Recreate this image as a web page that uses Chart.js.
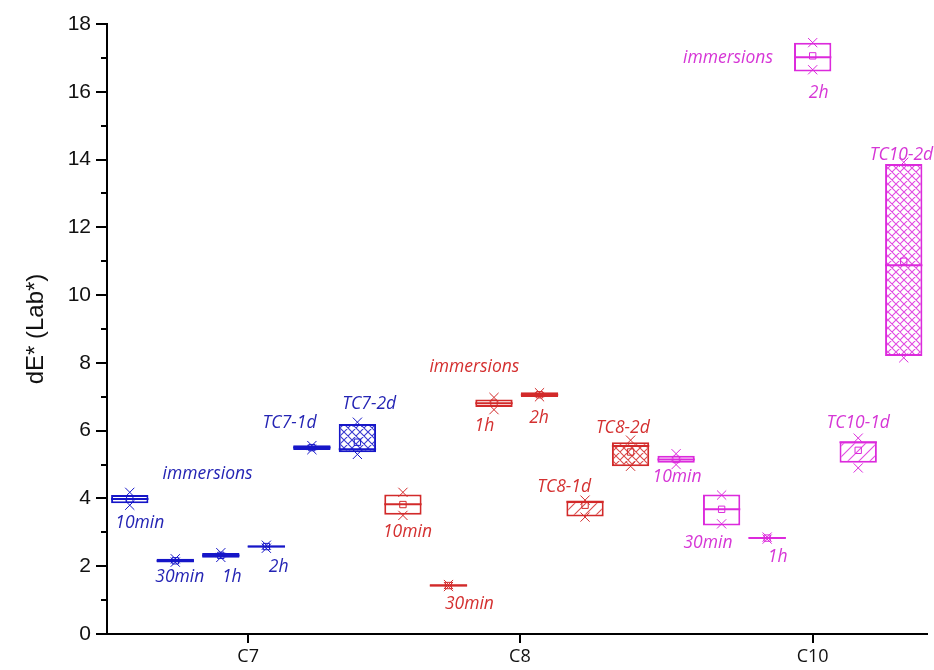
<!DOCTYPE html>
<html lang="en">
<head>
<meta charset="UTF-8">
<title>dE* (Lab*) box chart</title>
<script src="https://cdn.jsdelivr.net/npm/chart.js"></script>
<style>
    html, body { margin: 0; padding: 0; background: #ffffff; }
</style>
</head>
<body>
<canvas id="chart" width="934" height="670"></canvas>
<script>
// groups along the x axis
const groupNames = ['C7', 'C8', 'C10'];
const xTickPos = [3.6, 9.57, 16.0];

// one box per sample: position on the x axis and its group
const boxPos   = [1, 2, 3, 4, 5, 6, 7, 8, 9, 10, 11, 12, 13, 14, 15, 16, 17, 18];
const boxGroup = [0, 0, 0, 0, 0, 0, 1, 1, 1, 1, 1, 1, 2, 2, 2, 2, 2, 2];

// box statistics (dE*)
const boxLow  = [3.86, 2.11, 2.25, 2.55, 5.43, 5.36, 3.52, 1.40, 6.70, 6.99, 3.47, 4.95, 5.05, 3.20, 2.81, 16.60, 5.05, 8.20];
const boxHigh = [4.10, 2.22, 2.39, 2.61, 5.57, 6.20, 4.12, 1.47, 6.92, 7.13, 3.92, 5.66, 5.26, 4.12, 2.86, 17.45, 5.68, 13.87];
const medians = [3.98, 2.16, 2.32, 2.58, 5.50, 5.45, 3.83, 1.43, 6.81, 7.06, 3.90, 5.55, 5.15, 3.68, 2.83, 17.02, 5.66, 10.88];
const means   = [3.98, 2.16, 2.32, 2.58, 5.50, 5.66, 3.82, 1.43, 6.81, 7.06, 3.80, 5.37, 5.15, 3.68, 2.83, 17.06, 5.42, 11.00];
const mins    = [3.80, 2.12, 2.26, 2.53, 5.44, 5.30, 3.50, 1.40, 6.62, 7.00, 3.45, 4.95, 5.00, 3.25, 2.80, 16.65, 4.90, 8.15];
const maxs    = [4.18, 2.22, 2.40, 2.62, 5.56, 6.25, 4.18, 1.46, 6.98, 7.12, 3.95, 5.72, 5.32, 4.10, 2.86, 17.45, 5.78, 13.92];

// text notes placed in data coordinates
const noteText  = ['immersions', '10min', '30min', '1h', '2h', 'TC7-1d', 'TC7-2d',
                   'immersions', '1h', '2h', '10min', '30min', 'TC8-1d', 'TC8-2d',
                   'immersions', '2h', '10min', '30min', '1h', 'TC10-1d', 'TC10-2d'];
const noteX     = [2.71, 1.22, 2.1, 3.24, 4.27, 4.51, 6.26,
                   8.57, 8.79, 9.99, 7.1, 8.46, 10.54, 11.83,
                   14.14, 16.13, 13.02, 13.7, 15.23, 17.0, 17.95];
const noteY     = [4.72, 3.27, 1.68, 1.68, 1.98, 6.22, 6.78,
                   7.88, 6.14, 6.37, 3.0, 0.88, 4.34, 6.08,
                   16.99, 15.96, 4.63, 2.68, 2.27, 6.22, 14.13];
const noteGroup = [0, 0, 0, 0, 0, 0, 0, 1, 1, 1, 1, 1, 1, 1, 2, 2, 2, 2, 2, 2, 2];

// styling
const lineColors = ['#1616c8', '#d22a2a', '#dc2adc'];
const textColors = ['#2424b4', '#d43030', '#d636d6'];
const boxFill = ['', '', '', '', '', 'cross', '', '', '', '', 'diag', 'cross', '', '', '', '', 'diag', 'cross'];

function makePattern(color, kind) {
    const c = document.createElement('canvas');
    const s = kind === 'cross' ? 8 : 11;
    c.width = s; c.height = s;
    const g = c.getContext('2d');
    g.fillStyle = '#ffffff';
    g.fillRect(0, 0, s, s);
    g.strokeStyle = color;
    g.lineWidth = 1.1;
    g.globalAlpha = 0.85;
    g.beginPath();
    g.moveTo(0, s); g.lineTo(s, 0);
    g.moveTo(-1, 1); g.lineTo(1, -1);
    g.moveTo(s - 1, s + 1); g.lineTo(s + 1, s - 1);
    if (kind === 'cross') {
        g.moveTo(0, 0); g.lineTo(s, s);
        g.moveTo(-1, s - 1); g.lineTo(1, s + 1);
        g.moveTo(s - 1, -1); g.lineTo(s + 1, 1);
    }
    g.stroke();
    return g.createPattern(c, 'repeat');
}

const boxBg = boxFill.map((f, i) => f ? makePattern(lineColors[boxGroup[i]], f) : '#ffffff');
const boxBorder = boxGroup.map(g => lineColors[g]);

const halfBox = ctx => {
    const s = ctx.chart.scales.x;
    return (s.getPixelForValue(1) - s.getPixelForValue(0)) * 0.41;
};

// text notes
const notesPlugin = {
    id: 'notes',
    afterDatasetsDraw(chart) {
        const ctx = chart.ctx;
        const xs = chart.scales.x, ys = chart.scales.y;
        ctx.save();
        ctx.font = 'italic 17.5px "Open Sans"';
        ctx.textAlign = 'center';
        ctx.textBaseline = 'middle';
        noteText.forEach((t, i) => {
            ctx.fillStyle = textColors[noteGroup[i]];
            ctx.fillText(t, xs.getPixelForValue(noteX[i]), ys.getPixelForValue(noteY[i]));
        });
        ctx.restore();
    }
};

// minor ticks on the y axis
const minorTicks = {
    id: 'minorTicks',
    afterDraw(chart) {
        const ctx = chart.ctx;
        const ys = chart.scales.y;
        const x0 = chart.chartArea.left;
        ctx.save();
        ctx.strokeStyle = '#000';
        ctx.lineWidth = 2;
        for (let v = 1; v < 18; v += 2) {
            const y = Math.round(ys.getPixelForValue(v));
            ctx.beginPath();
            ctx.moveTo(x0 - 6, y);
            ctx.lineTo(x0, y);
            ctx.stroke();
        }
        ctx.restore();
    }
};

new Chart(document.getElementById('chart'), {
    type: 'bar',
    data: {
        datasets: [
            {
                type: 'scatter',
                order: 0,
                data: boxPos.map((x, i) => ({ x: x, y: means[i] })),
                pointStyle: 'rect',
                pointRadius: 4.5,
                pointBorderWidth: 1,
                pointBackgroundColor: 'rgba(255,255,255,0)',
                pointBorderColor: boxBorder
            },
            {
                type: 'scatter',
                order: 0,
                data: boxPos.map((x, i) => ({ x: x, y: mins[i] })).concat(boxPos.map((x, i) => ({ x: x, y: maxs[i] }))),
                pointStyle: 'crossRot',
                pointRadius: 6.5,
                pointBorderWidth: 1,
                pointBorderColor: boxBorder.concat(boxBorder)
            },
            {
                type: 'scatter',
                order: 0,
                data: boxPos.map((x, i) => ({ x: x, y: medians[i] })),
                pointStyle: 'line',
                pointRadius: halfBox,
                pointBorderWidth: 2,
                pointBorderColor: boxBorder
            },
            {
                type: 'bar',
                order: 1,
                data: boxPos.map((x, i) => ({ x: x, y: [boxLow[i], boxHigh[i]] })),
                backgroundColor: boxBg,
                borderColor: boxBorder,
                borderWidth: 2,
                borderSkipped: false,
                barPercentage: 0.82,
                categoryPercentage: 1
            }
        ]
    },
    options: {
        responsive: false,
        animation: false,
        events: [],
        layout: { padding: { left: 0, top: 24, right: 7, bottom: 0 } },
        plugins: {
            legend: { display: false },
            tooltip: { enabled: false }
        },
        scales: {
            x: {
                type: 'linear',
                min: 0.5,
                max: 18.5,
                offset: false,
                afterBuildTicks: scale => {
                    scale.ticks = xTickPos.map(v => ({ value: v }));
                },
                afterFit: scale => { scale.height = 36; },
                ticks: {
                    autoSkip: false,
                    maxRotation: 0,
                    padding: 3,
                    color: '#111',
                    font: { family: 'Open Sans', size: 18 },
                    callback: v => groupNames[xTickPos.indexOf(v)]
                },
                grid: {
                    offset: false,
                    drawOnChartArea: false,
                    color: '#000',
                    lineWidth: 2,
                    tickLength: 9
                },
                border: { display: true, color: '#000', width: 2 }
            },
            y: {
                min: 0,
                max: 18,
                afterFit: scale => { scale.width = 107; },
                ticks: {
                    stepSize: 2,
                    padding: 5,
                    color: '#111',
                    font: { family: 'Liberation Sans', size: 21 }
                },
                grid: {
                    drawOnChartArea: false,
                    color: '#000',
                    lineWidth: 2,
                    tickLength: 11
                },
                border: { display: true, color: '#000', width: 2 },
                title: {
                    display: true,
                    text: 'dE* (Lab*)',
                    color: '#111',
                    font: { family: 'Liberation Sans', size: 24 },
                    padding: { top: 22, bottom: 0 }
                }
            }
        }
    },
    plugins: [notesPlugin, minorTicks]
});
</script>
</body>
</html>
